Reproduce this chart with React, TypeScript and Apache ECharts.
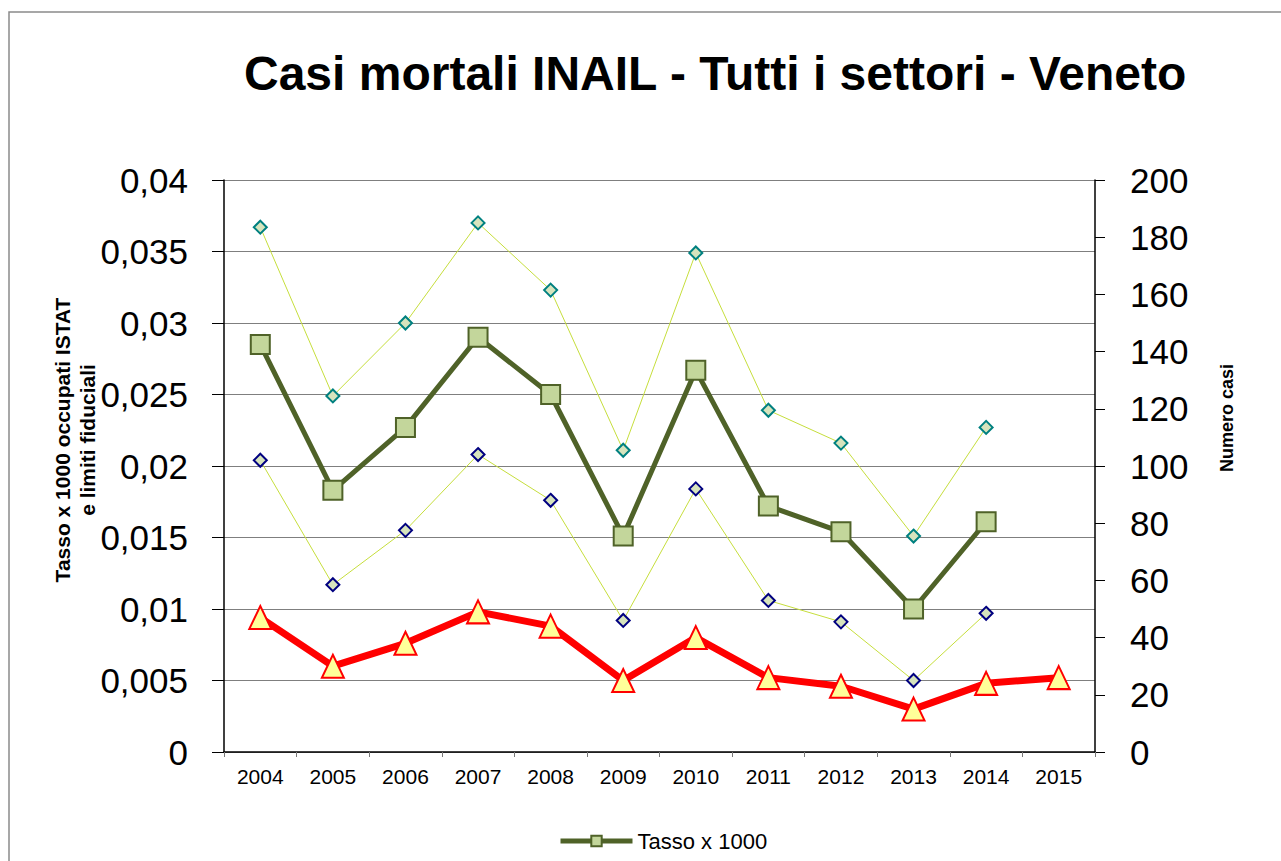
import React, { useEffect, useRef } from "react";
import * as echarts from "echarts";

const years = ["2004", "2005", "2006", "2007", "2008", "2009", "2010", "2011", "2012", "2013", "2014", "2015"];
const tasso = [0.0285, 0.0183, 0.0227, 0.029, 0.025, 0.0151, 0.0267, 0.0172, 0.0154, 0.01, 0.0161, null];
const limiteSuperiore = [0.0367, 0.0249, 0.03, 0.037, 0.0323, 0.0211, 0.0349, 0.0239, 0.0216, 0.0151, 0.0227, null];
const limiteInferiore = [0.0204, 0.0117, 0.0155, 0.0208, 0.0176, 0.0092, 0.0184, 0.0106, 0.0091, 0.005, 0.0097, null];
const numeroCasi = [47, 30, 38, 49, 44, 25, 40, 26, 23, 15, 24, 26];

const FONT = "'Liberation Sans', Arial, sans-serif";

export default function App() {
  const ref = useRef<HTMLDivElement>(null);
  useEffect(() => {
    if (!ref.current) return;
    const chart = echarts.init(ref.current, null, { renderer: "svg" });
    chart.setOption({
      animation: false,
      backgroundColor: "#ffffff",
      textStyle: { fontFamily: FONT },
      title: {
        text: "Casi mortali INAIL - Tutti i settori - Veneto",
        left: 239,
        top: 44,
        textStyle: { fontFamily: FONT, fontSize: 48, fontWeight: "bold", color: "#000" },
      },
      legend: {
        data: ["Tasso x 1000"],
        left: 553,
        top: 825,
        itemWidth: 72,
        itemHeight: 13,
        itemGap: 10,
        lineStyle: { width: 5 },
        textStyle: { fontFamily: FONT, fontSize: 22, color: "#000" },
      },
      grid: { left: 224, right: 186, top: 180, bottom: 109, containLabel: false },
      xAxis: {
        type: "category",
        data: years,
        boundaryGap: true,
        axisLine: { lineStyle: { color: "#000", width: 1.5 } },
        axisTick: { show: true, length: 5, lineStyle: { color: "#777" } },
        axisLabel: { fontFamily: FONT, fontSize: 21, color: "#000", margin: 14 },
        splitLine: { show: false },
      },
      yAxis: [
        {
          type: "value",
          min: 0,
          max: 0.04,
          interval: 0.005,
          position: "left",
          axisLine: { show: true, lineStyle: { color: "#000", width: 1.5 } },
          axisTick: { show: true, length: 12, lineStyle: { color: "#000" } },
          axisLabel: {
            fontFamily: FONT,
            fontSize: 35,
            color: "#000",
            margin: 36,
            formatter: (v: number) => String(+v.toFixed(3)).replace(".", ","),
          },
          splitLine: { show: true, lineStyle: { color: "#7f7f7f", width: 1 } },
        },
        {
          type: "value",
          min: 0,
          max: 200,
          interval: 20,
          position: "right",
          axisLine: { show: true, lineStyle: { color: "#000", width: 1.5 } },
          axisTick: { show: true, length: 10, lineStyle: { color: "#000" } },
          axisLabel: { fontFamily: FONT, fontSize: 35, color: "#000", margin: 35 },
          splitLine: { show: false },
        },
      ],
      graphic: [
        {
          type: "rect",
          shape: { x: 9, y: 12, width: 1400, height: 1000 },
          style: { fill: "none", stroke: "#8a8a8a", lineWidth: 1.5 },
          silent: true,
        },
        {
          type: "text",
          x: 75,
          y: 440,
          rotation: Math.PI / 2,
          style: {
            text: "Tasso x 1000 occupati ISTAT\ne limiti fiduciali",
            font: `bold 21px ${FONT}`,
            fill: "#000",
            textAlign: "center",
            textVerticalAlign: "middle",
            lineHeight: 25,
          },
        },
        {
          type: "text",
          x: 1227,
          y: 418,
          rotation: Math.PI / 2,
          style: {
            text: "Numero casi",
            font: `bold 18px ${FONT}`,
            fill: "#000",
            textAlign: "center",
            textVerticalAlign: "middle",
          },
        },
      ],
      series: [
        {
          name: "Limite superiore",
          type: "line",
          yAxisIndex: 0,
          data: limiteSuperiore,
          symbol: "diamond",
          symbolSize: 13,
          lineStyle: { color: "#C6DE3C", width: 1 },
          itemStyle: { color: "#D7E4BD", borderColor: "#008080", borderWidth: 2 },
          z: 2,
        },
        {
          name: "Limite inferiore",
          type: "line",
          yAxisIndex: 0,
          data: limiteInferiore,
          symbol: "diamond",
          symbolSize: 13,
          lineStyle: { color: "#C6DE3C", width: 1 },
          itemStyle: { color: "#D7E4BD", borderColor: "#000080", borderWidth: 2 },
          z: 2,
        },
        {
          name: "Tasso x 1000",
          type: "line",
          yAxisIndex: 0,
          data: tasso,
          symbol: "rect",
          symbolSize: 19,
          lineStyle: { color: "#4F6228", width: 5 },
          itemStyle: { color: "#C3D69B", borderColor: "#4F6228", borderWidth: 2 },
          z: 3,
        },
        {
          name: "Numero casi",
          type: "line",
          yAxisIndex: 1,
          data: numeroCasi,
          symbol: "triangle",
          symbolSize: [22, 23],
          lineStyle: { color: "#FF0000", width: 7 },
          itemStyle: { color: "#FFFF99", borderColor: "#FF0000", borderWidth: 2 },
          z: 4,
        },
      ],
    });
    return () => chart.dispose();
  }, []);
  return (
    <div
      ref={ref}
      style={{ position: "fixed", left: 0, top: 0, width: 1281, height: 861 }}
    />
  );
}
